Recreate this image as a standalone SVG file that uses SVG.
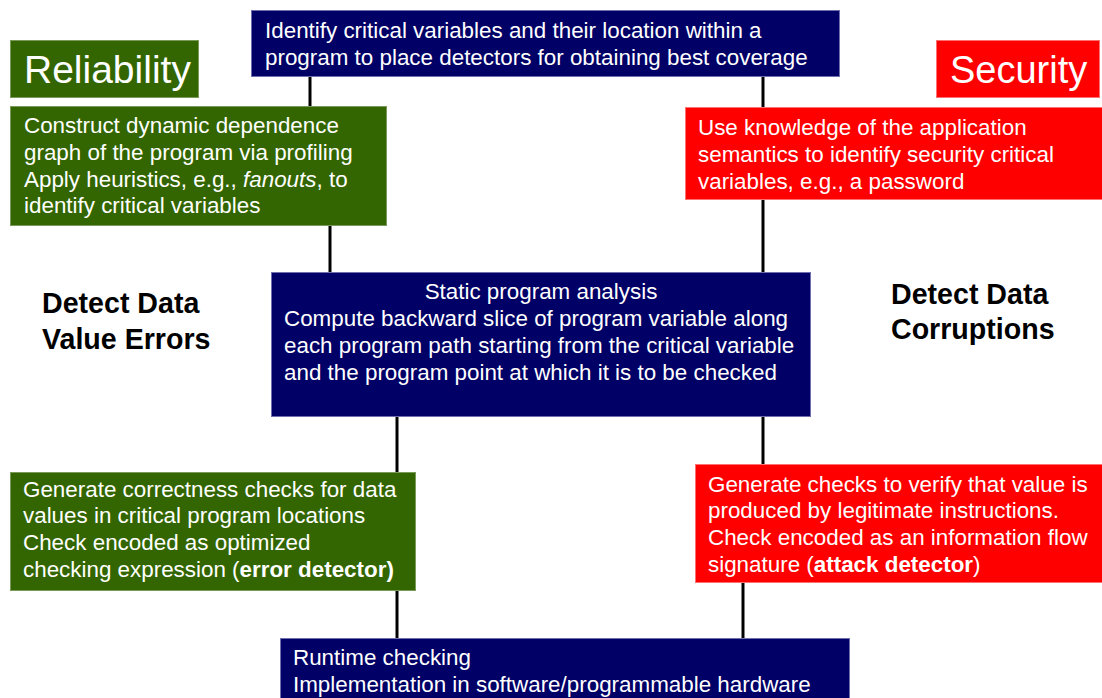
<svg xmlns="http://www.w3.org/2000/svg" width="1102" height="698" viewBox="0 0 1102 698">
  <style>
    text { font-family: "Liberation Sans", Arial, sans-serif; fill: #ffffff; }
    .body { font-size: 22.4px; }
    .title { font-size: 39px; }
    .title-s { font-size: 38px; }
    .side { font-size: 28.6px; font-weight: bold; fill: #000000; }
    .navy { fill: #000066; stroke: #6f6fb0; stroke-width: 1; }
    .green { fill: #336600; stroke: #7a9a5a; stroke-width: 1; }
    .red { fill: #ff0000; stroke: #ff7070; stroke-width: 1; }
    .wire { stroke: #000000; stroke-width: 3; fill: none; }
    .b { font-weight: bold; }
    .i { font-style: italic; }
  </style>
  <rect width="1102" height="698" fill="#ffffff"/>

  <!-- connectors (drawn first so boxes sit on top) -->
  <g id="connectors">
    <line class="wire" x1="310" y1="76" x2="310" y2="107"/>
    <line class="wire" x1="763" y1="76" x2="763" y2="108"/>
    <line class="wire" x1="330" y1="225" x2="330" y2="272"/>
    <line class="wire" x1="763" y1="199" x2="763" y2="272"/>
    <line class="wire" x1="397" y1="416" x2="397" y2="472"/>
    <line class="wire" x1="763" y1="416" x2="763" y2="464"/>
    <line class="wire" x1="397" y1="590" x2="397" y2="638"/>
    <line class="wire" x1="743" y1="582" x2="743" y2="638"/>
  </g>

  <g id="identify">
    <rect class="navy" x="251.5" y="10.5" width="588" height="66"/>
    <text class="body" x="265" y="38">Identify critical variables and their location within a</text>
    <text class="body" x="265" y="65">program to place detectors for obtaining best coverage</text>
  </g>

  <g id="reliability">
    <rect class="green" x="10.5" y="40.5" width="188" height="57"/>
    <text class="title" x="24" y="83">Reliability</text>
  </g>

  <g id="security">
    <rect class="red" x="936.5" y="40.5" width="163" height="57"/>
    <text class="title-s" x="950" y="83">Security</text>
  </g>

  <g id="ddg">
    <rect class="green" x="10.5" y="106.5" width="376" height="119"/>
    <text class="body" x="24" y="133">Construct dynamic dependence</text>
    <text class="body" x="24" y="160">graph of the program via profiling</text>
    <text class="body" x="24" y="187">Apply heuristics, e.g., <tspan class="i">fanouts</tspan>, to</text>
    <text class="body" x="24" y="213">identify critical variables</text>
  </g>

  <g id="semantics">
    <rect class="red" x="685.5" y="107.5" width="420" height="92"/>
    <text class="body" x="698" y="135">Use knowledge of the application</text>
    <text class="body" x="698" y="162">semantics to identify security critical</text>
    <text class="body" x="698" y="189">variables, e.g., a password</text>
  </g>

  <g id="detect-value">
    <text class="side" x="42" y="313">Detect Data</text>
    <text class="side" x="42" y="349">Value Errors</text>
  </g>

  <g id="detect-corrupt">
    <text class="side" x="891" y="304">Detect Data</text>
    <text class="side" x="891" y="339">Corruptions</text>
  </g>

  <g id="static">
    <rect class="navy" x="271.5" y="272.5" width="539" height="144"/>
    <text class="body" x="541" y="299" text-anchor="middle">Static program analysis</text>
    <text class="body" x="284" y="326">Compute backward slice of program variable along</text>
    <text class="body" x="284" y="353">each program path starting from the critical variable</text>
    <text class="body" x="284" y="380">and the program point at which it is to be checked</text>
  </g>

  <g id="error-detector">
    <rect class="green" x="10.5" y="472.5" width="405" height="118"/>
    <text class="body" x="23" y="497">Generate correctness checks for data</text>
    <text class="body" x="23" y="523">values in critical program locations</text>
    <text class="body" x="23" y="550">Check encoded as optimized</text>
    <text class="body" x="23" y="577">checking expression (<tspan class="b">error detector)</tspan></text>
  </g>

  <g id="attack-detector">
    <rect class="red" x="695.5" y="464.5" width="410" height="118"/>
    <text class="body" x="708" y="492">Generate checks to verify that value is</text>
    <text class="body" x="708" y="518">produced by legitimate instructions.</text>
    <text class="body" x="708" y="545">Check encoded as an information flow</text>
    <text class="body" x="708" y="572">signature (<tspan class="b">attack detector</tspan>)</text>
  </g>

  <g id="runtime">
    <rect class="navy" x="280.5" y="638.5" width="569" height="64"/>
    <text class="body" x="293" y="665">Runtime checking</text>
    <text class="body" x="293" y="692">Implementation in software/programmable hardware</text>
  </g>
</svg>
